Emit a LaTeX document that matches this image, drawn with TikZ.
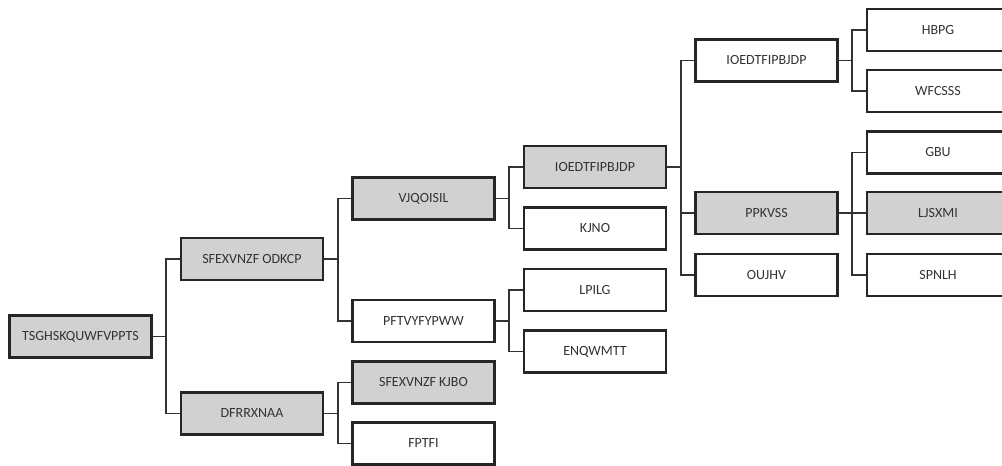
\documentclass[tikz,border=0pt]{standalone}
\usepackage{fontspec}
\setmainfont{Carlito}
\begin{document}
\begin{tikzpicture}[
            x=1pt, y=-1pt,
            caja/.style={draw=black!85, line width=2.2pt, fill=white, minimum width=142pt, minimum height=42pt, inner sep=0pt, font=\fontsize{14}{16}\selectfont, text=black!80},
            gris/.style={caja, fill=black!18},
            linea/.style={line width=1.8pt, draw=black!80}
        ]
        \useasboundingbox (0, 0) rectangle (1002, 466);
        \clip (0, 0) rectangle (1002, 466);

        % --- NIVEL 0 ---
        \node[gris] (R) at (80.5, 336.5) {TSGHSKQUWFVPPTS};

        % --- NIVEL 1 ---
        \node[gris] (A1) at (252, 259) {SFEXVNZF ODKCP};
        \node[gris] (A2) at (252, 413.5) {DFRRXNAA};

        % --- NIVEL 2 ---
        \node[gris] (B1) at (423.5, 198.5) {VJQOISIL};
        \node[caja] (B2) at (423.5, 321) {PFTVYFYPWW};
        \node[gris] (B3) at (423.5, 382.5) {SFEXVNZF KJBO};
        \node[caja] (B4) at (423.5, 443.5) {FPTFI};

        % --- NIVEL 3 ---
        \node[gris] (C1) at (595, 167) {IOEDTFIPBJDP};
        \node[caja] (C2) at (595, 228.5) {KJNO};
        \node[caja] (C3) at (595, 290) {LPILG};
        \node[caja] (C4) at (595, 351.5) {ENQWMTT};

        % --- NIVEL 4 ---
        \node[caja] (D1) at (766.5, 60.5) {IOEDTFIPBJDP};
        \node[gris] (D2) at (766.5, 213) {PPKVSS};
        \node[caja] (D3) at (766.5, 275) {OUJHV};

        % --- NIVEL 5 ---
        \node[caja] (E1) at (938, 30) {HBPG};
        \node[caja] (E2) at (938, 91) {WFCSSS};
        \node[caja] (E3) at (938, 152.5) {GBU};
        \node[gris] (E4) at (938, 213) {LJSXMI};
        \node[caja] (E5) at (938, 275) {SPNLH};

        % --- CONEXIONES ---
        \draw[linea] (R) -- ++(85.75, 0) coordinate (jR);
        \draw[linea] (jR) |- (A1);
        \draw[linea] (jR) |- (A2);

        \draw[linea] (A1) -- ++(85.75, 0) coordinate (jA1);
        \draw[linea] (jA1) |- (B1);
        \draw[linea] (jA1) |- (B2);

        \draw[linea] (A2) -- ++(85.75, 0) coordinate (jA2);
        \draw[linea] (jA2) |- (B3);
        \draw[linea] (jA2) |- (B4);

        \draw[linea] (B1) -- ++(85.75, 0) coordinate (jB1);
        \draw[linea] (jB1) |- (C1);
        \draw[linea] (jB1) |- (C2);

        \draw[linea] (B2) -- ++(85.75, 0) coordinate (jB2);
        \draw[linea] (jB2) |- (C3);
        \draw[linea] (jB2) |- (C4);

        \draw[linea] (C1) -- ++(85.75, 0) coordinate (jC1);
        \draw[linea] (jC1) |- (D1);
        \draw[linea] (jC1) |- (D2);
        \draw[linea] (jC1) |- (D3);

        \draw[linea] (D1) -- ++(85.75, 0) coordinate (jD1);
        \draw[linea] (jD1) |- (E1);
        \draw[linea] (jD1) |- (E2);

        \draw[linea] (D2) -- ++(85.75, 0) coordinate (jD2);
        \draw[linea] (jD2) |- (E3);
        \draw[linea] (jD2) |- (E4);
        \draw[linea] (jD2) |- (E5);
    \end{tikzpicture}
\end{document}
